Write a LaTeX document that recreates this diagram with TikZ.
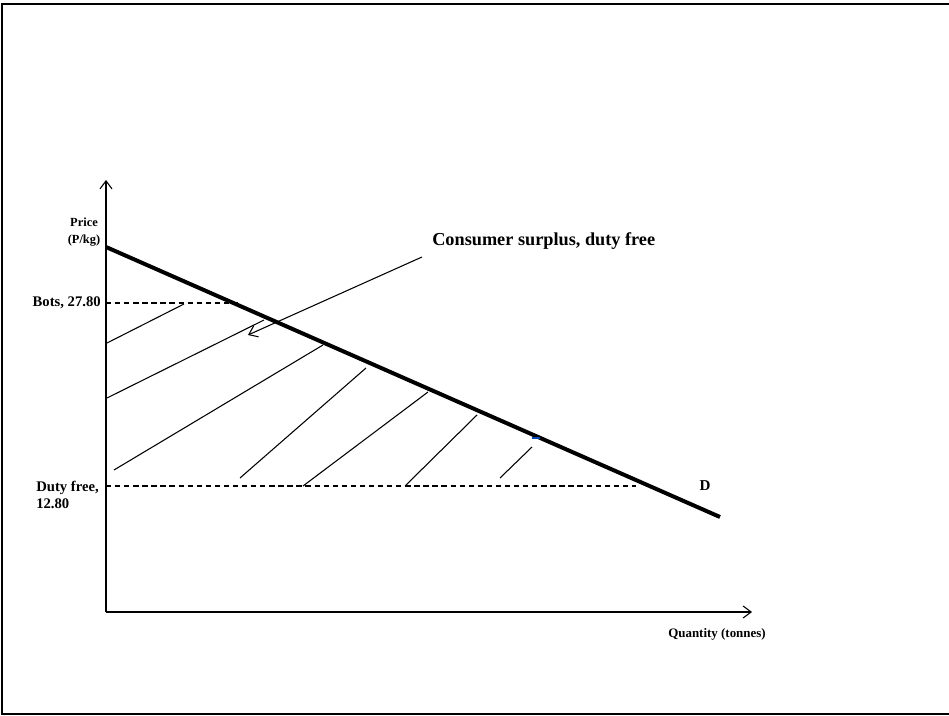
\documentclass[tikz,border=0pt]{standalone}
\usepackage{fontspec}
\setmainfont{Liberation Serif}
\usetikzlibrary{arrows.meta}
\begin{document}
\begin{tikzpicture}[x=0.75pt,y=-0.75pt,
    axis/.style={line width=0.8pt,-{Straight Barb[length=6pt,width=9pt]}},
    demand/.style={line width=3pt},
    guide/.style={line width=0.9pt,dash pattern=on 4pt off 2.8pt},
    hatch/.style={line width=0.8pt},
    lbl/.style={font=\bfseries\fontsize{11}{12.75}\selectfont,inner sep=0pt}]
    \useasboundingbox (0,0) rectangle (949,716);
    \draw[line width=1.8pt] (949,4) -- (2,4) -- (2,714) -- (949,714) ;

    % axes
    \coordinate (O) at (106,612) ;
    \coordinate (ytop) at (106,180) ;
    \coordinate (xend) at (752,612) ;
    \draw[axis] (O) -- (ytop) ;
    \draw[axis] (O) -- (xend) ;

    % demand curve
    \coordinate (dA) at (106,247) ;
    \coordinate (dB) at (720,517) ;
    \draw[demand] (dA) -- (dB) ;

    % price levels
    \coordinate (botsA) at (106,303) ;
    \coordinate (botsB) at (240,303) ;
    \coordinate (dutyA) at (106,486) ;
    \coordinate (dutyB) at (636,486) ;
    \draw[guide] (botsA) -- (botsB) ;
    \draw[guide] (dutyA) -- (dutyB) ;

    % hatching of the surplus
    \foreach \xa/\ya/\xb/\yb in {107/343/184/304, 107/398/264/320, 114/470/323/345,
      240/478/366/368, 303/486/428/392, 405/486/477/415, 500/478/532/447}
      \draw[hatch] (\xa,\ya) -- (\xb,\yb) ;
    \draw[draw=blue!60!cyan!70!black,line width=0.9pt] (532,438) -- (540,438) ;

    % labels
    \node[lbl,font=\bfseries\fontsize{9.3}{12.75}\selectfont,align=center] (pricelbl) at (84,232) {Price\\(P/kg)} ;
    \node[lbl,anchor=east] (botslbl) at (101,303) {Bots, 27.80} ;
    \node[lbl,anchor=west,align=left] (dutylbl) at (36,494.5) {Duty free,\\12.80} ;
    \node[lbl,font=\bfseries\fontsize{11.3}{13}\selectfont] (dlbl) at (705,486) {D} ;
    \node[lbl,font=\bfseries\fontsize{9.7}{11}\selectfont] (qtylbl) at (717,634) {Quantity (tonnes)} ;
    \node[lbl,font=\bfseries\fontsize{13.7}{16}\selectfont,anchor=west] (cslbl) at (432,241) {Consumer surplus, duty free} ;

    \coordinate (csfoot) at (422,257) ;
    \coordinate (cstip) at (248,335) ;
    \draw[hatch,-{Straight Barb[length=6pt,width=9pt]}] (csfoot) -- (cstip) ;
\end{tikzpicture}
\end{document}
